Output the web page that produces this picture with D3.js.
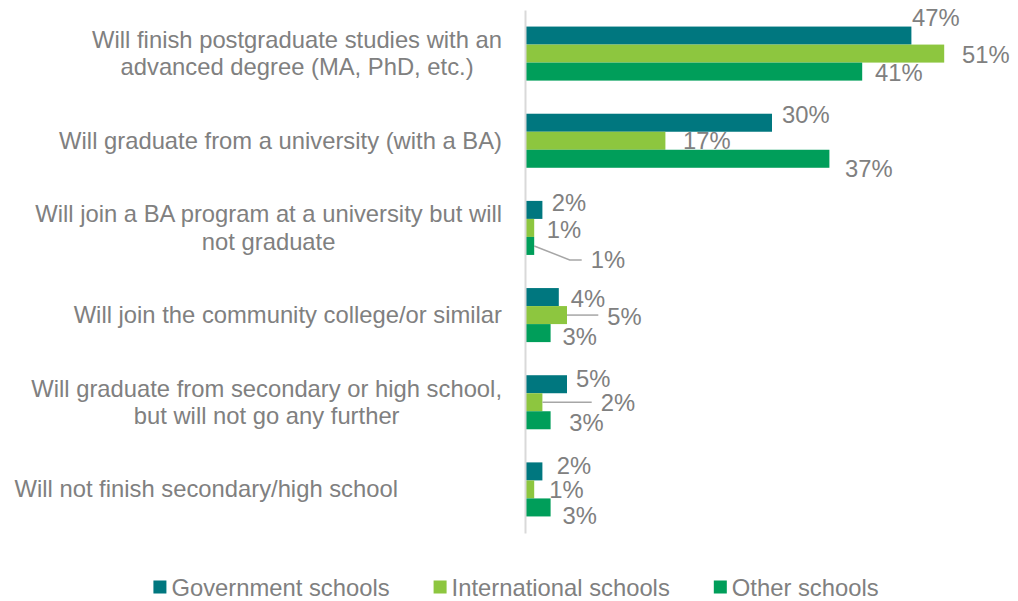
<!DOCTYPE html>
<html>
<head>
<meta charset="utf-8">
<script src="https://cdn.jsdelivr.net/npm/d3@7"></script>
<style>
  html, body { margin: 0; padding: 0; background: #ffffff; }
  svg { display: block; font-family: "Liberation Sans", Arial, sans-serif; }
</style>
</head>
<body>
<script>
// ---- data ----
const categories = [
  "Will finish postgraduate studies with an\nadvanced degree (MA, PhD, etc.)",
  "Will graduate from a university (with a BA)",
  "Will join a BA program at a university but will\nnot graduate",
  "Will join the community college/or similar",
  "Will graduate from secondary or high school,\nbut will not go any further",
  "Will not finish secondary/high school"
];
const seriesNames = ["Government schools", "International schools", "Other schools"];
const government    = [47, 30, 2, 4, 5, 2];
const international = [51, 17, 1, 5, 2, 1];
const other         = [41, 37, 1, 3, 3, 3];

// ---- layout & style ----
const W = 1018, H = 601;
const colors = ["#00777f", "#8dc63f", "#009e5a"];
const textColor = "#808080";
const fontSize = 23;
const stretchX = 1.035;          // horizontal scale applied to all text
const labelRight = [502, 502, 502, 502, 502, 398];
// data-label offsets [dx from bar end, dy from bar centre, leader line?]
const labelNudge = [
  [[0.6, -18], [10, -8], [9.3, -7], [12, 1.5], [9, -5.5], [14.3, -5.5]],
  [[17.8, 1.5], [17.6, 0.5], [12.5, 2], [40.3, 1.5, true], [58.3, 0.3, true], [15, 1]],
  [[12.8, 1.5], [15.6, 10.5], [56.5, 14, true], [12, 3.5], [18.7, 2.5], [12, 9]]
];

const seriesValues = [government, international, other];

const svg = d3.select("body").append("svg")
  .attr("width", W).attr("height", H);

const x = d3.scaleLinear().domain([0, 60]).range([526, 1018]);
const y = d3.scaleBand().domain(d3.range(categories.length))
  .range([10, 533]).paddingInner(0.38).paddingOuter(0.19);
const ys = d3.scaleBand().domain(d3.range(seriesNames.length))
  .range([0, y.bandwidth()]);

// helper: text with horizontal stretch
function addText(sel, tx, ty, str, anchor) {
  return sel.append("text")
    .attr("transform", `translate(${tx},${ty}) scale(${stretchX},1)`)
    .attr("text-anchor", anchor || "start")
    .attr("dy", "0.35em")
    .attr("fill", textColor)
    .style("font-size", fontSize + "px")
    .text(str);
}

// bars
const groups = svg.append("g").selectAll("g")
  .data(seriesValues)
  .join("g")
  .attr("fill", (d, i) => colors[i]);

groups.each(function (vals, s) {
  d3.select(this).selectAll("rect")
    .data(vals)
    .join("rect")
    .attr("x", x(0))
    .attr("y", (d, c) => y(c) + ys(s))
    .attr("width", d => x(d) - x(0))
    .attr("height", ys.bandwidth());
});

// vertical category axis
const axis = svg.append("g")
  .attr("transform", `translate(${x(0) - 1},0)`)
  .call(d3.axisLeft(y).tickSize(0).tickSizeOuter(0).tickFormat(""));
axis.select(".domain").attr("stroke", "#d9d9d9").attr("stroke-width", 2);

// category labels (multi-line, lines centred within a right-aligned block)
const catLayer = svg.append("g");
categories.forEach((label, c) => {
  const lines = label.split("\n");
  const lh = 27.5;
  const cy = y(c) + y.bandwidth() / 2;
  const temp = lines.map(l => addText(catLayer, 0, 0, l, "start"));
  const widths = temp.map(t => t.node().getComputedTextLength() * stretchX);
  temp.forEach(t => t.remove());
  const blockW = d3.max(widths);
  const cx = labelRight[c] - blockW / 2;
  lines.forEach((l, k) => {
    const ly = cy + (k - (lines.length - 1) / 2) * lh;
    addText(catLayer, lines.length > 1 ? cx : labelRight[c], ly, l,
      lines.length > 1 ? "middle" : "end");
  });
});

// data labels with optional leader lines
const lblLayer = svg.append("g");
seriesValues.forEach((vals, s) => {
  vals.forEach((v, c) => {
    const [dx, dy, leader] = labelNudge[s][c];
    const endX = x(v);
    const cy = y(c) + ys(s) + ys.bandwidth() / 2;
    const lx = endX + dx, ly = cy + dy;
    if (leader) {
      const pts = Math.abs(dy) > 4
        ? [[endX, cy], [lx - 21, ly], [lx - 9, ly]]
        : [[endX, cy], [lx - 9, cy]];
      lblLayer.append("path")
        .attr("d", d3.line()(pts))
        .attr("fill", "none")
        .attr("stroke", "#a6a6a6")
        .attr("stroke-width", 1.5);
    }
    addText(lblLayer, lx, ly, v + "%", "start");
  });
});

// legend
const legend = svg.append("g");
const sq = 13, gapSq = 5, gapItem = 44;
const items = seriesNames.map((name, i) => {
  const g = legend.append("g");
  g.append("rect").attr("width", sq).attr("height", sq)
    .attr("y", -sq / 2 - 1).attr("fill", colors[i]);
  const t = addText(g, sq + gapSq, 0, name, "start");
  const w = sq + gapSq + t.node().getComputedTextLength() * stretchX;
  return { g, w };
});
const total = d3.sum(items, d => d.w) + gapItem * (items.length - 1);
let cursor = 516 - total / 2;
items.forEach(it => {
  it.g.attr("transform", `translate(${cursor},588)`);
  cursor += it.w + gapItem;
});
</script>
</body>
</html>
